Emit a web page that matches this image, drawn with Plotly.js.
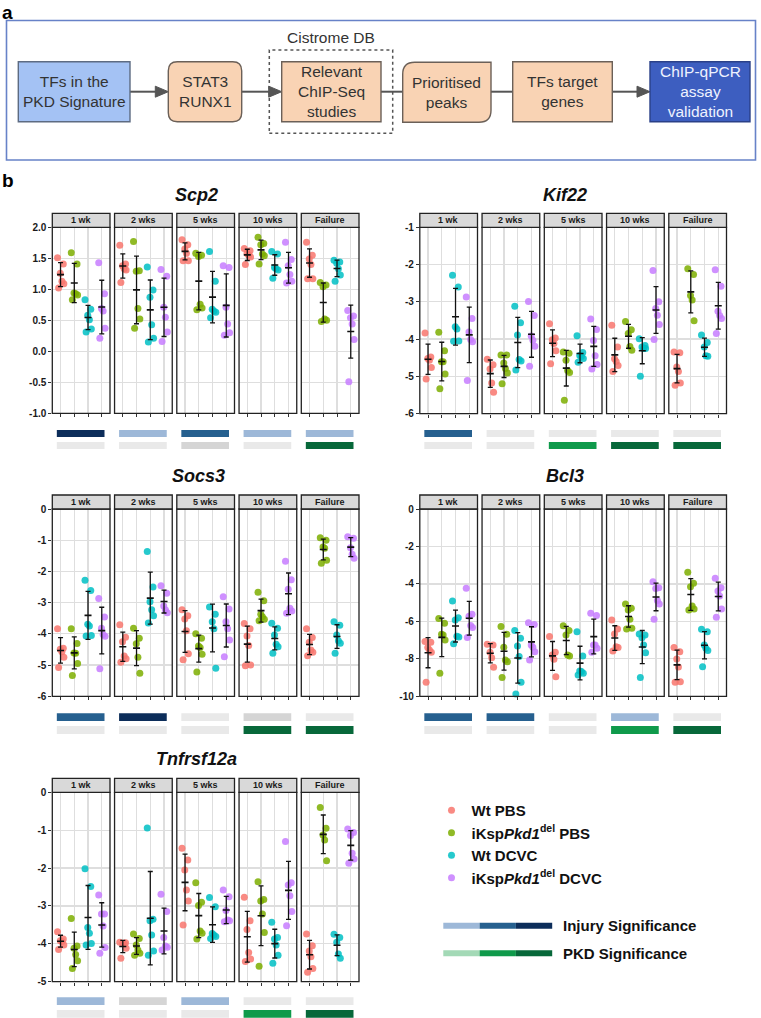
<!DOCTYPE html>
<html>
<head>
<meta charset="utf-8">
<script src="https://cdn.plot.ly/plotly-3.0.1.min.js"></script>
<style>html,body{margin:0;padding:0;background:#fff;}#chart{width:761px;height:1018px;}</style>
</head>
<body>
<div id="chart"></div>
<script>
// ---------------- DATA ----------------
const timepoints = ['1 wk', '2 wks', '5 wks', '10 wks', 'Failure'];
const groups = ['Wt PBS', 'iKsp<i>Pkd1</i><sup>del</sup> PBS', 'Wt DCVC', 'iKsp<i>Pkd1</i><sup>del</sup> DCVC'];
const genes = ['Scp2', 'Kif22', 'Socs3', 'Bcl3', 'Tnfrsf12a'];

// each gene: per timepoint -> [Wt PBS, iKspPkd1del PBS, Wt DCVC, iKspPkd1del DCVC]
const scp2 = [
  [[1.51,1.41,1.26,1.13,1.09,1.02],[1.59,1.41,0.94,0.93,0.91,0.83],[0.83,0.68,0.58,0.51,0.36,0.31],[1.43,0.93,0.69,0.65,0.37,0.21]],
  [[1.71,1.41,1.38,1.33,1.31,1.11],[1.77,1.30,1.29,0.69,0.52,0.37],[1.36,0.99,0.87,0.43,0.21,0.15],[1.32,1.21,0.71,0.55,0.31,0.16]],
  [[1.80,1.72,1.65,1.58,1.46,1.46],[1.58,1.55,1.53,0.76,0.70,0.67],[1.61,1.13,0.68,0.65,0.63,0.54],[1.38,1.35,0.71,0.44,0.30,0.26]],
  [[1.66,1.62,1.58,1.55,1.52,1.40],[1.84,1.74,1.72,1.57,1.54,1.41],[1.61,1.57,1.35,1.33,1.31,1.18],[1.76,1.48,1.38,1.24,1.13,1.10]],
  [[1.76,1.55,1.49,1.40,1.17,1.17],[1.11,1.07,1.04,0.52,0.50,0.48],[1.47,1.44,1.42,1.33,1.23,1.13],[0.66,0.57,0.54,0.44,0.19,-0.49]]
];
const kif22 = [
  [[-3.84,-4.48,-4.52,-4.57,-4.76,-5.07],[-3.82,-4.31,-4.61,-4.61,-4.94,-5.33],[-2.29,-2.60,-3.67,-3.73,-4.05,-4.06],[-2.87,-3.45,-3.81,-4.01,-4.07,-5.11]],
  [[-4.54,-4.69,-4.80,-5.18,-5.43],[-4.43,-4.43,-4.64,-4.79,-4.91,-5.20],[-3.12,-3.56,-3.89,-4.55,-4.59,-4.83],[-2.99,-3.37,-3.92,-4.03,-4.19,-4.73]],
  [[-3.59,-3.97,-4.02,-4.12,-4.31,-4.66],[-4.35,-4.38,-4.57,-4.84,-4.90,-5.64],[-3.91,-4.36,-4.44,-4.47,-4.52,-4.62],[-3.46,-3.74,-4.04,-4.45,-4.68,-4.80]],
  [[-3.63,-4.21,-4.53,-4.60,-4.71,-4.87],[-3.53,-3.75,-3.85,-4.20,-4.30],[-3.99,-4.17,-4.21,-4.25,-4.25,-5.00],[-2.16,-3.00,-3.18,-3.36,-3.61,-4.01]],
  [[-4.35,-4.37,-4.75,-4.87,-5.18,-5.24],[-2.11,-2.27,-2.83,-2.95,-3.51],[-3.89,-4.09,-4.21,-4.45,-4.46],[-2.14,-2.58,-3.25,-3.37,-3.45,-3.85]]
];
const socs3 = [
  [[-3.84,-4.46,-4.49,-4.57,-4.75,-5.08],[-3.84,-4.31,-4.61,-4.62,-4.95,-5.33],[-2.28,-2.61,-3.69,-3.75,-4.05,-4.07],[-2.87,-3.46,-3.82,-4.02,-4.08,-5.12]],
  [[-3.71,-4.11,-4.25,-4.71,-4.80,-4.91],[-3.82,-4.14,-4.32,-4.75,-5.26],[-1.36,-2.50,-2.97,-3.23,-3.42,-3.65],[-2.46,-2.70,-3.11,-3.23,-3.32]],
  [[-3.23,-3.42,-3.52,-3.90,-4.64,-4.83],[-4.00,-4.14,-4.39,-4.44,-4.65,-5.22],[-3.14,-3.37,-3.61,-3.84,-5.10],[-2.81,-3.20,-3.61,-3.84,-4.20,-4.73]],
  [[-3.67,-3.84,-4.07,-4.37,-5.00,-5.02],[-2.67,-2.94,-3.37,-3.45,-3.53,-3.58],[-3.66,-3.82,-4.04,-4.33,-4.41,-4.62],[-1.67,-2.27,-2.57,-3.18,-3.27,-3.34]],
  [[-3.84,-4.12,-4.27,-4.52,-4.59,-4.70],[-0.92,-1.00,-1.22,-1.26,-1.64,-1.74],[-3.61,-3.72,-4.04,-4.22,-4.30,-4.62],[-0.89,-0.94,-1.24,-1.45,-1.58]]
];
const bcl3 = [
  [[-7.08,-7.12,-7.40,-7.53,-7.65,-9.25],[-5.84,-6.10,-6.69,-6.73,-6.99,-8.77],[-4.91,-5.81,-5.93,-6.80,-6.84,-7.20],[-4.23,-5.62,-5.73,-6.22,-6.33,-6.86]],
  [[-7.22,-7.26,-7.65,-7.94,-8.45],[-6.28,-6.69,-7.38,-8.06,-8.15,-9.00],[-6.49,-6.90,-7.31,-7.88,-9.25,-9.88],[-6.07,-6.16,-7.26,-7.38,-7.62,-8.06]],
  [[-6.81,-7.65,-7.79,-8.02,-8.95],[-6.23,-6.49,-6.73,-7.79,-7.85],[-6.55,-7.85,-8.65,-8.68,-8.77,-8.86],[-5.57,-5.69,-7.26,-7.26,-7.44,-7.65]],
  [[-5.93,-6.41,-6.67,-7.35,-7.40,-7.58],[-5.07,-5.30,-5.39,-5.89,-6.37,-6.41],[-6.68,-6.73,-6.87,-7.26,-7.67,-9.00],[-3.88,-4.20,-4.24,-4.89,-5.07,-5.89]],
  [[-7.40,-7.62,-8.01,-8.43,-9.22,-9.25],[-3.38,-3.97,-4.15,-5.18,-5.34,-5.39],[-6.42,-6.55,-7.26,-7.44,-7.56,-8.42],[-3.70,-4.20,-4.38,-4.64,-5.34,-5.78]]
];
const tnfrsf12a = [
  [[-3.68,-3.87,-3.92,-3.94,-4.03,-4.15],[-3.33,-4.06,-4.12,-4.28,-4.45,-4.65],[-2.02,-2.49,-3.57,-3.72,-3.99,-4.03],[-2.71,-3.21,-3.21,-3.53,-4.10,-4.25]],
  [[-3.96,-3.97,-3.99,-4.00,-4.12,-4.38],[-3.74,-3.86,-4.03,-4.16,-4.25,-4.30],[-0.94,-3.35,-3.39,-3.77,-4.19,-4.30],[-2.69,-3.15,-3.83,-4.06,-4.09,-4.16]],
  [[-1.48,-1.79,-2.05,-2.58,-2.87,-3.50],[-2.39,-2.90,-2.99,-3.66,-3.72,-3.87],[-2.78,-3.02,-3.73,-3.77,-3.81,-3.86],[-2.58,-2.76,-3.12,-3.37,-3.39,-3.42]],
  [[-2.77,-3.39,-3.62,-4.23,-4.40,-4.47],[-2.36,-2.83,-2.87,-3.21,-3.70,-4.59],[-3.43,-3.83,-3.87,-4.03,-4.30,-4.51],[-1.30,-2.39,-2.45,-2.73,-3.15,-3.52]],
  [[-3.74,-4.05,-4.19,-4.34,-4.65,-4.75],[-0.40,-0.95,-1.13,-1.26,-1.81],[-3.75,-3.83,-3.96,-4.27,-4.38],[-0.97,-1.06,-1.14,-1.61,-1.76,-1.87]]
];

// y tick values per gene
const scp2Ticks = [-1.0,-0.5,0.0,0.5,1.0,1.5,2.0];
const kif22Ticks = [-6,-5,-4,-3,-2,-1];
const socs3Ticks = [-6,-5,-4,-3,-2,-1,0];
const bcl3Ticks = [-10,-8,-6,-4,-2,0];
const tnfTicks = [-5,-4,-3,-2,-1,0];

// significance levels per timepoint ('ns' none, 'tr' grey, '*' .. '***')
const scp2Injury = ['***','*','**','*','*'];
const scp2Pkd    = ['ns','ns','tr','ns','***'];
const kif22Injury = ['**','ns','ns','ns','ns'];
const kif22Pkd    = ['ns','ns','**','***','***'];
const socs3Injury = ['**','***','ns','tr','ns'];
const socs3Pkd    = ['ns','ns','ns','***','***'];
const bcl3Injury = ['**','**','ns','*','ns'];
const bcl3Pkd    = ['ns','ns','ns','**','***'];
const tnfInjury = ['*','tr','*','ns','ns'];
const tnfPkd    = ['ns','ns','ns','**','***'];

const flowSteps = ['TFs in the<br>PKD Signature','STAT3<br>RUNX1','Relevant<br>ChIP-Seq<br>studies','Prioritised<br>peaks','TFs target<br>genes','ChIP-qPCR<br>assay<br>validation'];

// ---------------- STYLE / GEOMETRY ----------------
const W = 761, H = 1018;
const X = px => px / W;
const Y = py => 1 - py / H;
const FONT = 'Liberation Sans, Arial, Helvetica, sans-serif';
const COLORS = ['#F8766D', '#7CAE00', '#00BFC4', '#C77CFF'];
const INJ_COL = {ns:'#e9e9e9', tr:'#d5d5d5', '*':'#9db8d8', '**':'#26608f', '***':'#0c2d5a'};
const PKD_COL = {ns:'#e9e9e9', tr:'#d5d5d5', '*':'#a3d9b6', '**':'#0f9a4b', '***':'#07683a'};
const JIT = [-0.22, 0.2, -0.02, 0.1, 0.24, -0.14, 0.05];
const STEP = 62.25, FW = 57.7, STRIP = 14;
const GRID = '#dedede';

const charts = [
  {data:scp2, ticks:scp2Ticks, dec:1, inj:scp2Injury, pkd:scp2Pkd, range:[-1,2], left:52.3, top:227.3, bottom:413.3, tx:197, ty:195, injY:[430,437], pkdY:[442,449]},
  {data:kif22, ticks:kif22Ticks, dec:0, inj:kif22Injury, pkd:kif22Pkd, range:[-6,-1], left:419.8, top:227.3, bottom:413.6, tx:565, ty:195, injY:[430,437], pkdY:[442,449]},
  {data:socs3, ticks:socs3Ticks, dec:0, inj:socs3Injury, pkd:socs3Pkd, range:[-6,0], left:52.3, top:509, bottom:696.3, tx:198, ty:475.7, injY:[713.3,721], pkdY:[726,734]},
  {data:bcl3, ticks:bcl3Ticks, dec:0, inj:bcl3Injury, pkd:bcl3Pkd, range:[-10,0], left:419.8, top:509, bottom:696.3, tx:565, ty:475.7, injY:[713.3,721], pkdY:[726,734]},
  {data:tnfrsf12a, ticks:tnfTicks, dec:0, inj:tnfInjury, pkd:tnfPkd, range:[-5,0], left:52.3, top:792.3, bottom:981.7, tx:197, ty:759, injY:[997.3,1005], pkdY:[1010,1017.7]}
];

const traces = [], shapes = [], annotations = [];
const layout = {
  width: W, height: H,
  margin: {l:0, r:0, t:0, b:0},
  paper_bgcolor: '#ffffff', plot_bgcolor: '#ffffff',
  font: {family: FONT, color: '#222'},
  showlegend: true,
  legend: {x: X(431.5), y: Y(794), xanchor:'left', yanchor:'top', bgcolor:'rgba(0,0,0,0)',
           font:{family: FONT, size:15, color:'#111', weight:'bold'}, tracegroupgap:0, itemwidth:30},
  shapes, annotations
};

const mean = a => a.reduce((s,v)=>s+v,0)/a.length;
const sd = a => { const m = mean(a); return Math.sqrt(a.reduce((s,v)=>s+(v-m)*(v-m),0)/(a.length-1)); };

charts.forEach((ch, c) => {
  const yid = c + 1;
  const yName = 'yaxis' + (yid === 1 ? '' : yid);
  const yRef = 'y' + (yid === 1 ? '' : yid);
  const firstX = 'x' + (c*5+1 === 1 ? '' : c*5+1);
  const plotH = ch.bottom - ch.top;
  layout[yName] = {
    domain: [Y(ch.bottom), Y(ch.top)], range: ch.range,
    tickmode: 'array', tickvals: ch.ticks, ticktext: ch.ticks.map(v => v.toFixed(ch.dec)),
    anchor: firstX, showgrid: true, gridcolor: GRID, gridwidth: 1.2,
    zeroline: false, showline: false, ticks: 'outside', ticklen: 3, tickcolor: '#333', tickwidth: 1,
    tickfont: {family: FONT, size: 10, color: '#1a1a1a', weight: 'bold'}, fixedrange: true
  };
  timepoints.forEach((tp, f) => {
    const xid = c*5 + f + 1;
    const xName = 'xaxis' + (xid === 1 ? '' : xid);
    const xRef = 'x' + (xid === 1 ? '' : xid);
    const x0 = ch.left + f*STEP, x1 = x0 + FW;
    layout[xName] = {
      domain: [X(x0), X(x1)], range: [0.4, 4.6], anchor: yRef,
      tickvals: [1,2,3,4], showticklabels: false, ticks: 'outside', ticklen: 3, tickcolor: '#333', tickwidth: 1,
      showgrid: true, gridcolor: GRID, gridwidth: 1.2, zeroline: false, showline: false, fixedrange: true
    };
    const means = [], sds = [];
    groups.forEach((g, gi) => {
      const vals = ch.data[f][gi];
      means.push(mean(vals)); sds.push(sd(vals));
      traces.push({
        type: 'scatter', mode: 'markers', xaxis: xRef, yaxis: yRef,
        x: vals.map((v, i) => gi + 1 + JIT[i % JIT.length]), y: vals,
        marker: {color: COLORS[gi], size: 7, opacity: 0.85},
        name: g, legendgroup: g, showlegend: (c === 0 && f === 0), hoverinfo: 'skip', cliponaxis: false
      });
    });
    traces.push({
      type: 'scatter', mode: 'markers', xaxis: xRef, yaxis: yRef,
      x: [1,2,3,4], y: means,
      error_y: {type: 'data', array: sds, visible: true, color: '#111', thickness: 1.3, width: 2.5},
      marker: {symbol: 'line-ew', size: 5, color: '#111', line: {width: 1.6, color: '#111'}},
      showlegend: false, hoverinfo: 'skip'
    });
    // panel border
    shapes.push({type:'rect', xref: xRef + ' domain', yref: yRef + ' domain', x0:0, x1:1, y0:0, y1:1,
                 line:{color:'#222', width:1.3}, fillcolor:'rgba(0,0,0,0)', layer:'above'});
    // strip
    shapes.push({type:'rect', xref: xRef + ' domain', yref: yRef + ' domain', x0:0, x1:1, y0:1, y1:1 + STRIP/plotH,
                 line:{color:'#222', width:1.3}, fillcolor:'#d9d9d9', layer:'above'});
    annotations.push({xref: xRef + ' domain', yref: yRef + ' domain', x:0.5, y:1 + STRIP/2/plotH, text: tp,
                      showarrow:false, font:{family:FONT, size:9, color:'#1a1a1a', weight:'bold'}, yanchor:'middle'});
    // significance bars
    shapes.push({type:'rect', xref: xRef, yref:'paper', x0:0.73, x1:4.2, y0:Y(ch.injY[1]), y1:Y(ch.injY[0]),
                 line:{width:0}, fillcolor: INJ_COL[ch.inj[f]]});
    shapes.push({type:'rect', xref: xRef, yref:'paper', x0:0.73, x1:4.2, y0:Y(ch.pkdY[1]), y1:Y(ch.pkdY[0]),
                 line:{width:0}, fillcolor: PKD_COL[ch.pkd[f]]});
  });
  annotations.push({xref:'paper', yref:'paper', x:X(ch.tx), y:Y(ch.ty), text: genes[c], showarrow:false,
                    xanchor:'center', yanchor:'middle',
                    font:{family:FONT, size:18, color:'#111', weight:'bold', style:'italic'}});
});

// significance legend
const legBars = [
  {y: 925.7, cols: [INJ_COL['*'], INJ_COL['**'], INJ_COL['***']], label: 'Injury Significance'},
  {y: 953.3, cols: [PKD_COL['*'], PKD_COL['**'], PKD_COL['***']], label: 'PKD Significance'}
];
legBars.forEach(b => {
  b.cols.forEach((col, i) => {
    shapes.push({type:'rect', xref:'paper', yref:'paper', x0:X(443.3 + i*36.3), x1:X(443.3 + (i+1)*36.3),
                 y0:Y(b.y + 3), y1:Y(b.y - 3), line:{width:0}, fillcolor: col});
  });
  annotations.push({xref:'paper', yref:'paper', x:X(561), y:Y(b.y), text:b.label, showarrow:false,
                    xanchor:'left', yanchor:'middle', font:{family:FONT, size:15, color:'#111', weight:'bold'}});
});

// panel labels
annotations.push({xref:'paper', yref:'paper', x:X(1), y:Y(1), text:'a', showarrow:false, xanchor:'left', yanchor:'top',
                  borderpad:0, font:{family:FONT, size:19, color:'#000', weight:'bold'}});
annotations.push({xref:'paper', yref:'paper', x:X(1), y:Y(180), text:'b', showarrow:false, xanchor:'left', yanchor:'middle',
                  borderpad:0, font:{family:FONT, size:19, color:'#000', weight:'bold'}});

// ---------------- PANEL a: flowchart ----------------
function rpath(x0, y0, x1, y1, r) { // r = [tl, tr, br, bl] in px
  const P = (x, y) => X(x) + ',' + Y(y);
  return 'M' + P(x0 + r[0], y0) + ' L' + P(x1 - r[1], y0) + ' Q' + P(x1, y0) + ' ' + P(x1, y0 + r[1]) +
         ' L' + P(x1, y1 - r[2]) + ' Q' + P(x1, y1) + ' ' + P(x1 - r[2], y1) +
         ' L' + P(x0 + r[3], y1) + ' Q' + P(x0, y1) + ' ' + P(x0, y1 - r[3]) +
         ' L' + P(x0, y0 + r[0]) + ' Q' + P(x0, y0) + ' ' + P(x0 + r[0], y0) + ' Z';
}
// outer frame
shapes.push({type:'rect', xref:'paper', yref:'paper', x0:X(6.5), x1:X(755.5), y0:Y(160), y1:Y(20.5),
             line:{color:'#6782c8', width:1.6}, fillcolor:'rgba(0,0,0,0)'});
// dashed Cistrome box
shapes.push({type:'rect', xref:'paper', yref:'paper', x0:X(269.3), x1:X(392.7), y0:Y(133.3), y1:Y(50),
             line:{color:'#555', width:1.5, dash:'dot'}, fillcolor:'rgba(0,0,0,0)'});
annotations.push({xref:'paper', yref:'paper', x:X(331), y:Y(38), text:'Cistrome DB', showarrow:false,
                  xanchor:'center', yanchor:'middle', font:{family:FONT, size:15.5, color:'#333'}});
const CY = 91.7;
const boxes = [
  {x0:18.3, x1:130, y0:61.7, y1:121.7, r:[0,0,0,0], fill:'#a4c2f4', line:'#5d6b82', txt:'#333'},
  {x0:168.3, x1:241.7, y0:61.7, y1:121.7, r:[9,9,9,9], fill:'#f9d3b4', line:'#6b6058', txt:'#333'},
  {x0:281.7, x1:381, y0:61.7, y1:121.7, r:[0,0,0,0], fill:'#f9d3b4', line:'#6b6058', txt:'#333'},
  {x0:402.7, x1:491, y0:62.2, y1:122.2, r:[12,0,12,0], fill:'#f9d3b4', line:'#6b6058', txt:'#333'},
  {x0:512.7, x1:612.3, y0:61.7, y1:121.7, r:[0,0,0,0], fill:'#f9d3b4', line:'#6b6058', txt:'#333'},
  {x0:650, x1:750, y0:61.7, y1:121.7, r:[0,0,0,0], fill:'#3d5ec0', line:'#2a4088', txt:'#eef2ff'}
];
// plain connectors
[[381, 402.7], [491, 512.7]].forEach(s => {
  shapes.push({type:'line', xref:'paper', yref:'paper', x0:X(s[0]), x1:X(s[1]), y0:Y(CY), y1:Y(CY),
               line:{color:'#555', width:2}});
});
// arrow connectors: shaft + filled triangular head
[[130, 168.3], [241.7, 281.7], [612.3, 650]].forEach(a => {
  shapes.push({type:'line', xref:'paper', yref:'paper', x0:X(a[0]), x1:X(a[1] - 10), y0:Y(CY), y1:Y(CY),
               line:{color:'#555', width:2}});
  shapes.push({type:'path', xref:'paper', yref:'paper',
               path: 'M' + X(a[1] - 13) + ',' + Y(CY - 5.5) + ' L' + X(a[1]) + ',' + Y(CY) + ' L' + X(a[1] - 13) + ',' + Y(CY + 5.5) + ' Z',
               fillcolor:'#555', line:{color:'#555', width:1}});
});
boxes.forEach((b, i) => {
  shapes.push({type:'path', xref:'paper', yref:'paper', path: rpath(b.x0, b.y0, b.x1, b.y1, b.r),
               fillcolor: b.fill, line:{color: b.line, width:1.4}, layer:'above'});
  annotations.push({xref:'paper', yref:'paper', x:X((b.x0 + b.x1)/2), y:Y((b.y0 + b.y1)/2), text: flowSteps[i],
                    showarrow:false, xanchor:'center', yanchor:'middle',
                    font:{family:FONT, size:15.5, color: b.txt}});
});

Plotly.newPlot('chart', traces, layout, {staticPlot: true, displayModeBar: false});
</script>
</body>
</html>
